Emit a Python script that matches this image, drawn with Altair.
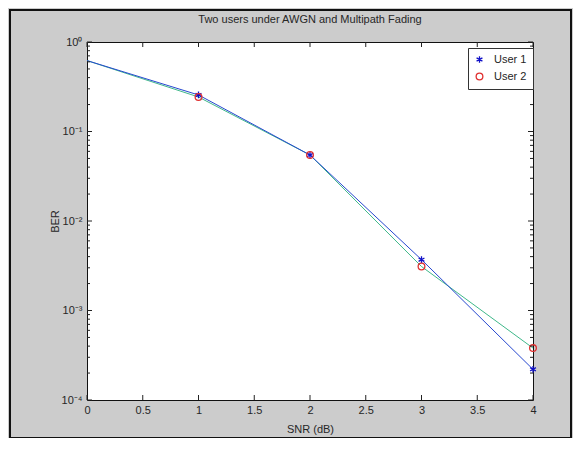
import altair as alt
import pandas as pd

# ---- data ----
snr = [0, 1, 2, 3, 4]
ber_user1 = [0.62, 0.256, 0.0546, 0.0037, 0.00022]
ber_user2 = [0.62, 0.243, 0.0546, 0.0031, 0.00038]
users = ["User 1", "User 2"]
x_ticks = [0, 0.5, 1, 1.5, 2, 2.5, 3, 3.5, 4]
y_major = [1e-4, 1e-3, 1e-2, 1e-1, 1.0]
y_minor = [k * 10.0 ** e for e in range(-4, 0) for k in range(2, 10)]

W, H = 446, 358
FONT = "Liberation Sans"
TXT = "#262626"
STAR = "M0,-1L0,1M-0.87,-0.5L0.87,0.5M-0.87,0.5L0.87,-0.5"

df = pd.DataFrame({
    "snr": snr * 2,
    "ber": ber_user1 + ber_user2,
    "user": [users[0]] * len(snr) + [users[1]] * len(snr),
})

xs = alt.Scale(domain=[0, 4], nice=False, zero=False)
ys = alt.Scale(type="log", domain=[1e-4, 1], nice=False)

y_label_expr = ("datum.value >= 0.5 ? '10⁰' : datum.value >= 0.05 ? '10⁻¹' : "
                "datum.value >= 0.005 ? '10⁻²' : datum.value >= 0.0005 ? '10⁻³' : '10⁻⁴'")

base = alt.Chart(df)

X = alt.X("snr:Q", scale=xs, title="SNR (dB)",
          axis=alt.Axis(values=x_ticks, ticks=False, domain=False, grid=False,
                        labelPadding=4, titlePadding=8, labelFlush=False,
                        labelExpr="datum.value == 0 ? '0' : format(datum.value, '')"))
Y = alt.Y("ber:Q", scale=ys, title="BER",
          axis=alt.Axis(values=y_major, ticks=False, domain=False, grid=False,
                        labelPadding=5, titlePadding=1, labelFlush=False,
                        labelExpr=y_label_expr))

line1 = base.transform_filter(alt.datum.user == users[0]).mark_line(
    color="#2748d0", strokeWidth=1).encode(x=X, y=Y)
line2 = base.transform_filter(alt.datum.user == users[1]).mark_line(
    color="#3fb88a", strokeWidth=1).encode(x=X, y=Y)

points = base.transform_filter(alt.datum.snr > 0).mark_point(
    filled=False, strokeWidth=1.3, size=45, opacity=1).encode(
    x=X, y=Y,
    color=alt.Color("user:N", scale=alt.Scale(domain=users, range=["#1010c8", "#e03030"]),
                    legend=alt.Legend(title=None, orient="none", legendX=381, legendY=6,
                                      fillColor="white", strokeColor="#333333",
                                      padding=6, labelFont=FONT, labelFontSize=11,
                                      labelColor=TXT, symbolStrokeWidth=1.3,
                                      symbolSize=45, rowPadding=4, labelOffset=9)),
    shape=alt.Shape("user:N", scale=alt.Scale(domain=users, range=[STAR, "circle"]),
                    legend=None),
)

# inward MATLAB-style ticks
maj = pd.DataFrame({"v": y_major})
mnr = pd.DataFrame({"v": y_minor})
xt = pd.DataFrame({"v": x_ticks})
tk = dict(color="#222222", strokeWidth=1)
ytick_l = alt.Chart(maj).mark_rule(**tk).encode(y=alt.Y("v:Q", scale=ys), x=alt.value(0), x2=alt.value(5))
ytick_r = alt.Chart(maj).mark_rule(**tk).encode(y=alt.Y("v:Q", scale=ys), x=alt.value(W), x2=alt.value(W - 5))
ymin_l = alt.Chart(mnr).mark_rule(**tk).encode(y=alt.Y("v:Q", scale=ys), x=alt.value(0), x2=alt.value(3))
ymin_r = alt.Chart(mnr).mark_rule(**tk).encode(y=alt.Y("v:Q", scale=ys), x=alt.value(W), x2=alt.value(W - 3))
xtick_b = alt.Chart(xt).mark_rule(**tk).encode(x=alt.X("v:Q", scale=xs), y=alt.value(H), y2=alt.value(H - 5))
xtick_t = alt.Chart(xt).mark_rule(**tk).encode(x=alt.X("v:Q", scale=xs), y=alt.value(0), y2=alt.value(5))

frame = alt.Chart(pd.DataFrame({"a": [0]})).mark_rect(
    fill=None, stroke="#111111", strokeWidth=2).encode(
    x=alt.value(-77), x2=alt.value(W + 38), y=alt.value(-32), y2=alt.value(H + 38))

chart = alt.layer(
    line2, line1, points, ytick_l, ytick_r, ymin_l, ymin_r, xtick_b, xtick_t, frame
).resolve_scale(x="shared", y="shared").properties(
    width=W, height=H,
    title=alt.Title("Two users under AWGN and Multipath Fading", font=FONT, fontSize=11,
                    fontWeight="normal", color=TXT, offset=-16, frame="group"),
    autosize=alt.AutoSizeParams(type="none"),
    padding={"left": 79, "top": 34, "right": 40, "bottom": 38},
).configure(background="#cccccc").configure_view(
    fill="white", stroke="#111111", strokeWidth=1
).configure_axis(
    labelFont=FONT, labelFontSize=11, labelColor=TXT,
    titleFont=FONT, titleFontSize=11, titleColor=TXT, titleFontWeight="normal",
)

chart.save("out.html", embed_options={"renderer": "svg", "actions": False})
